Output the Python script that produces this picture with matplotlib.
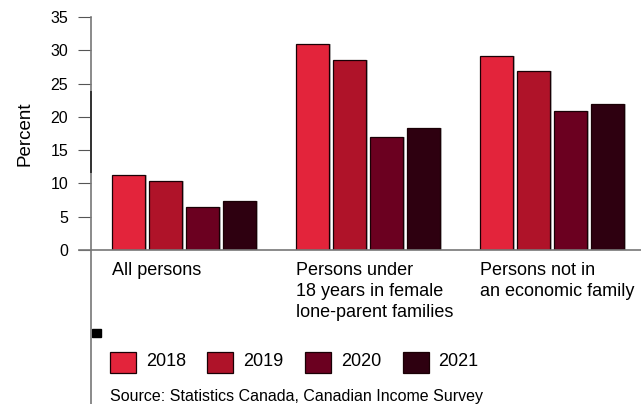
import matplotlib.pyplot as plt
import numpy as np
from matplotlib.patches import Rectangle
from matplotlib.lines import Line2D

plt.rcParams["font.family"] = ["Liberation Sans", "DejaVu Sans"]

categories = ["All persons",
              "Persons under\n18 years in female\nlone-parent families",
              "Persons not in\nan economic family"]
years = ["2018", "2019", "2020", "2021"]
values = {
    "2018": [11.2, 31.0, 29.1],
    "2019": [10.3, 28.6, 26.9],
    "2020": [6.4, 17.0, 20.9],
    "2021": [7.4, 18.4, 21.9],
}
colors = ["#E3243B", "#AF1329", "#6B0020", "#2E0010"]
yticks = [0, 5, 10, 15, 20, 25, 30, 35]

W, H = 641, 404
fig = plt.figure(figsize=(W / 100, H / 100), dpi=100)
ax = fig.add_axes([91 / W, 1 - 250 / H, (W - 91) / W, (250 - 17) / H])

step, width = 0.201, 0.182
x = np.arange(len(categories))
for i, yr in enumerate(years):
    off = (i - 1.5) * step
    # soft grey drop shadow behind each bar
    ax.bar(x + off + 0.008, values[yr], width, color="#bbbbbb",
           edgecolor="none", zorder=1)
    ax.bar(x + off, values[yr], width, color=colors[i], edgecolor="#1a0005",
           linewidth=0.9, zorder=2)

ax.set_xlim(-0.505, 2.484)
ax.set_ylim(0, 35)
ax.set_yticks(yticks)
ax.set_xticks([])
ax.tick_params(axis="y", length=9.5, width=0.8, color="#555555", labelsize=11.5,
               pad=7)
for s in ["top", "right", "left", "bottom"]:
    ax.spines[s].set_visible(False)
ax.set_ylabel("Percent", fontsize=13.5, labelpad=12)

# baseline running out past the zero tick
ax.add_line(Line2D([-12 / 184 - 0.505, 2.484], [0, 0], color="#777777", lw=1.2,
                   clip_on=False, zorder=3))

# category labels sit left-aligned under each group
for xi, lab in zip(x, categories):
    ax.text(xi - 1.5 * step - width / 2, -1.75, lab, ha="left", va="top",
            fontsize=13, linespacing=1.32, clip_on=False)

# vertical axis runs down to the bottom edge of the figure
fig.add_artist(Line2D([91 / W, 91 / W], [0, 1 - 17 / H], color="#777777", lw=1.2))
fig.add_artist(Line2D([91 / W, 91 / W], [1 - 172 / H, 1 - 92 / H], color="#333333", lw=1.4))
fig.add_artist(Rectangle((92 / W, 1 - 337 / H), 9 / W, 8 / H, color="black"))

# legend row
for i, yr in enumerate(years):
    x0 = 110 + i * 97.5
    fig.add_artist(Rectangle((x0 / W, 1 - 373 / H), 26 / W, 21 / H,
                             facecolor=colors[i], edgecolor="#1a0005", lw=0.9))
    fig.text((x0 + 36) / W, 1 - 362 / H, yr, fontsize=13, va="center", ha="left")

fig.text(110 / W, 1 - 396 / H, "Source: Statistics Canada, Canadian Income Survey",
         fontsize=11.5, va="center", ha="left")

fig.savefig("out.png", dpi=100)
